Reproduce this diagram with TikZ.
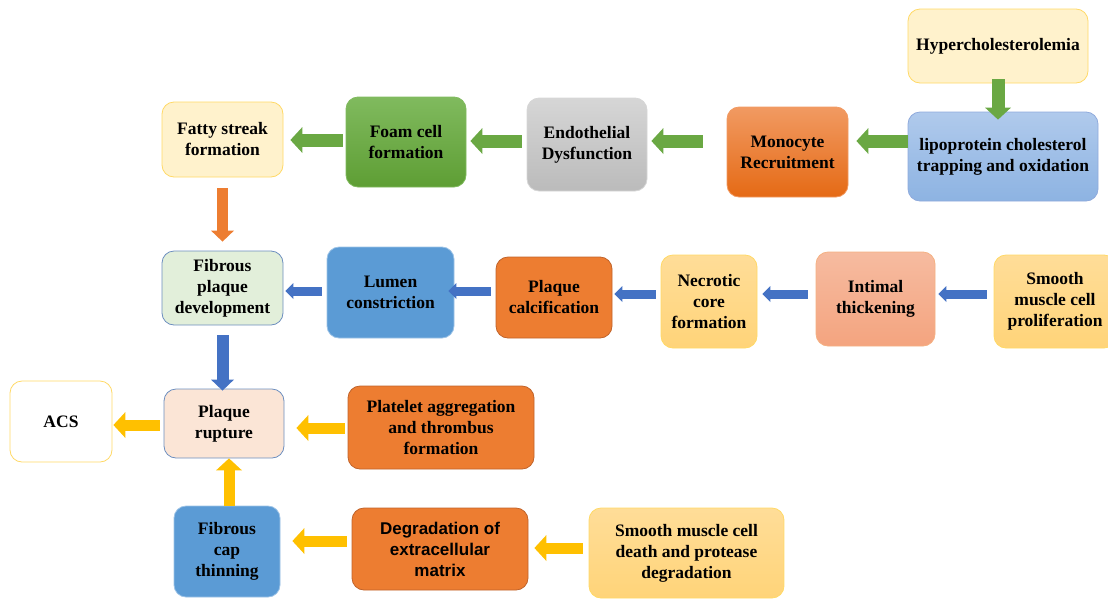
\documentclass[tikz,border=0pt]{standalone}
\usepackage{fontspec}
\setmainfont{Liberation Serif}
\newfontfamily\arialfont{Liberation Sans}
\usetikzlibrary{arrows.meta,calc}
\definecolor{cYel}{HTML}{FFF2CC}
\definecolor{cYelB}{HTML}{FFD966}
\definecolor{cLipT}{HTML}{B0CAEC}
\definecolor{cLipB}{HTML}{8DB3E2}
\definecolor{cLipD}{HTML}{8FAADC}
\definecolor{cMonT}{HTML}{F19A62}
\definecolor{cMonB}{HTML}{E56A15}
\definecolor{cEndT}{HTML}{D6D6D6}
\definecolor{cEndB}{HTML}{BBBBBB}
\definecolor{cFoaT}{HTML}{80BA5E}
\definecolor{cFoaB}{HTML}{5E9E34}
\definecolor{cFib}{HTML}{E2EFDA}
\definecolor{cBlueB}{HTML}{6C8EBF}
\definecolor{cLum}{HTML}{5B9BD5}
\definecolor{cLumB}{HTML}{9DC3E6}
\definecolor{cOra}{HTML}{ED7D31}
\definecolor{cOraB}{HTML}{C0632A}
\definecolor{cNecT}{HTML}{FFDD98}
\definecolor{cNecB}{HTML}{FFD479}
\definecolor{cIntT}{HTML}{F6BBA0}
\definecolor{cIntB}{HTML}{F4A47F}
\definecolor{cIntD}{HTML}{F4B183}
\definecolor{cRup}{HTML}{FBE5D6}
\definecolor{aGreen}{HTML}{6AA843}
\definecolor{aOrange}{HTML}{ED7D31}
\definecolor{aBlue}{HTML}{4472C4}
\definecolor{aYellow}{HTML}{FFC000}
\begin{document}
\begin{tikzpicture}[x=1pt,y=-1pt,
  box/.style={rectangle, rounded corners=12pt, align=center, inner sep=2pt,
    font=\fontsize{17.5}{21}\selectfont\bfseries, text=black, line width=0.8pt},
  yelbox/.style={box, draw=cYelB, fill=cYel},
  necbox/.style={box, draw=cYelB, top color=cNecT, bottom color=cNecB},
  orabox/.style={box, draw=cOraB, fill=cOra},
  lumbox/.style={box, draw=cLumB, fill=cLum},
  garrow/.style={line width=13pt, aGreen, -{Triangle[length=12pt,width=26pt,line width=0pt]}},
  oarrow/.style={line width=11pt, aOrange, -{Triangle[length=11pt,width=23pt,line width=0pt]}},
  barrow/.style={line width=9pt, aBlue, -{Triangle[length=8pt,width=16pt,line width=0pt]}},
  bdarrow/.style={line width=12pt, aBlue, -{Triangle[length=11pt,width=23pt,line width=0pt]}},
  yarrow/.style={line width=11pt, aYellow, -{Triangle[length=12pt,width=26pt,line width=0pt]}}
]
\useasboundingbox (0,0) rectangle (1108,598);
\clip (0,0) rectangle (1108,598);

% row 1
\node[yelbox, minimum width=180pt, minimum height=74pt] (hyp) at (998,46) {Hypercholesterolemia};
\node[box, draw=cLipD, top color=cLipT, bottom color=cLipB, minimum width=190pt, minimum height=89pt] (lip) at (1003,156.5) {lipoprotein cholesterol\\trapping and oxidation};
\node[box, draw=cMonT, top color=cMonT, bottom color=cMonB, minimum width=121pt, minimum height=90pt] (mono) at (787.5,152) {Monocyte\\Recruitment};
\node[box, draw=cEndT, top color=cEndT, bottom color=cEndB, minimum width=120pt, minimum height=93pt] (endo) at (587,144.5) {Endothelial\\Dysfunction};
\node[box, draw=cFoaT, top color=cFoaT, bottom color=cFoaB, minimum width=120pt, minimum height=90pt] (foam) at (406,142) {Foam cell\\formation};
\node[yelbox, minimum width=121pt, minimum height=75pt] (fatty) at (222.5,139.5) {Fatty streak\\formation};

% row 2
\node[box, draw=cBlueB, fill=cFib, minimum width=121pt, minimum height=74pt] (fib) at (222.5,288) {Fibrous\\plaque\\development};
\node[lumbox, minimum width=127pt, minimum height=91pt] (lumen) at (390.5,292.5) {Lumen\\constriction};
\node[orabox, minimum width=116pt, minimum height=81pt] (calc) at (554,297.5) {Plaque\\calcification};
\node[necbox, minimum width=96pt, minimum height=93pt] (necro) at (709,301.5) {Necrotic\\core\\formation};
\node[box, draw=cIntD, top color=cIntT, bottom color=cIntB, minimum width=119pt, minimum height=94pt] (intim) at (875.5,299) {Intimal\\thickening};
\node[necbox, minimum width=122pt, minimum height=93pt] (smp) at (1055,301.5) {Smooth\\muscle cell\\proliferation};

% row 3
\node[yelbox, fill=white, minimum width=102pt, minimum height=81pt] (acs) at (61,421.5) {ACS};
\node[box, draw=cBlueB, fill=cRup, minimum width=120pt, minimum height=69pt] (rupt) at (224,423.5) {Plaque\\rupture};
\node[orabox, minimum width=186pt, minimum height=83pt] (plat) at (441,427.5) {Platelet aggregation\\and thrombus\\formation};

% row 4
\node[lumbox, minimum width=106pt, minimum height=91pt] (cap) at (227,551.5) {Fibrous\\cap\\thinning};
\node[orabox, minimum width=176pt, minimum height=82pt, font=\arialfont\fontsize{17}{21}\selectfont\bfseries] (degr) at (440,549) {Degradation of\\extracellular\\matrix};
\node[necbox, minimum width=195pt, minimum height=90pt] (smd) at (686.5,553) {Smooth muscle cell\\death and protease\\degradation};

% arrows row 1
\draw[garrow, shorten <=-4pt, shorten >=-8pt] (hyp.south) -- (hyp.south |- lip.north);
\draw[garrow, shorten >=8pt] (lip.west |- 0,141) -- (mono.east |- 0,141);
\draw[garrow, shorten <=24pt, shorten >=4pt] (mono.west |- 0,141) -- (endo.east |- 0,141);
\draw[garrow, shorten <=5pt, shorten >=4pt] (endo.west |- 0,141) -- (foam.east |- 0,141);
\draw[garrow, shorten <=3pt, shorten >=7pt] (foam.west |- 0,140) -- (fatty.east |- 0,140);
\draw[oarrow, shorten <=11pt, shorten >=9pt] (fatty.south) -- (fib.north);

% arrows row 2
\draw[barrow, shorten <=7pt, shorten >=3pt] (smp.west |- 0,294) -- (intim.east |- 0,294);
\draw[barrow, shorten <=8pt, shorten >=5pt] (intim.west |- 0,294) -- (necro.east |- 0,294);
\draw[barrow, shorten <=5pt, shorten >=2pt] (necro.west |- 0,294) -- (calc.east |- 0,294);
\draw[barrow, shorten <=5pt, shorten >=-6pt] (calc.west |- 0,291) -- (lumen.east |- 0,291);
\draw[barrow, shorten <=5pt, shorten >=2pt] (lumen.west |- 0,291) -- (fib.east |- 0,291);
\draw[bdarrow, shorten <=10pt, shorten >=-2pt] (fib.south) -- (fib.south |- rupt.north);

% arrows rows 3-4
\draw[yarrow, shorten <=3pt, shorten >=12pt] (plat.west |- 0,428) -- (rupt.east |- 0,428);
\draw[yarrow, shorten <=4pt, shorten >=1pt] (rupt.west |- 0,425) -- (acs.east |- 0,425);
\draw[yarrow] (229,0 |- cap.north) -- (229,0 |- rupt.south);
\draw[yarrow, shorten <=5pt, shorten >=12pt] (degr.west |- 0,541) -- (cap.east |- 0,541);
\draw[yarrow, shorten <=6pt, shorten >=6pt] (smd.west |- 0,548) -- (degr.east |- 0,548);
\end{tikzpicture}
\end{document}
